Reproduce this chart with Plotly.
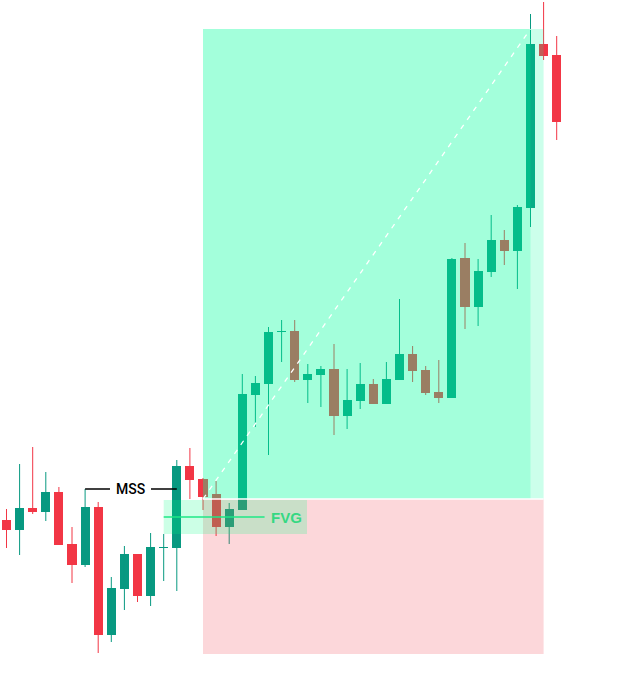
import plotly.graph_objects as go

# ---- data (price units) ----
opens  = [118.0, 117.0, 119.2, 118.8, 120.8, 115.6, 113.5, 119.3, 106.5, 111.1,
          114.6, 110.4, 115.2, 115.2, 123.4, 122.1, 120.6, 117.3, 119.0, 130.5,
          131.6, 136.8, 136.9, 132.0, 132.5, 133.1, 128.4, 129.9, 131.6, 129.6,
          132.0, 134.6, 133.0, 130.8, 130.2, 144.2, 139.3, 142.8, 146.0, 144.9,
          149.2, 165.6, 164.5]
highs  = [119.1, 123.6, 125.3, 122.8, 121.3, 117.3, 121.1, 119.8, 112.3, 115.4,
          114.6, 116.7, 116.6, 124.0, 125.2, 122.2, 121.9, 119.7, 132.6, 132.4,
          137.3, 138.0, 138.0, 133.6, 133.4, 135.6, 133.1, 133.7, 132.1, 133.8,
          140.1, 135.4, 133.4, 134.0, 144.2, 145.7, 144.1, 148.5, 147.0, 149.5,
          168.6, 169.8, 166.4]
lows   = [115.2, 114.5, 118.6, 117.9, 115.5, 111.7, 113.3, 104.7, 105.8, 109.0,
          109.8, 109.4, 111.9, 110.9, 120.1, 119.0, 116.4, 115.6, 119.0, 127.3,
          124.5, 133.8, 131.8, 129.7, 129.3, 126.5, 127.1, 129.1, 129.6, 129.6,
          132.0, 131.8, 130.5, 129.7, 130.2, 137.1, 137.4, 142.3, 143.5, 141.1,
          147.3, 164.0, 156.0]
closes = [117.0, 119.2, 118.8, 120.8, 115.5, 113.5, 119.3, 106.5, 111.2, 114.6,
          110.4, 115.3, 115.3, 123.4, 122.0, 120.3, 117.3, 119.1, 130.6, 131.7,
          136.8, 136.9, 132.0, 132.6, 133.1, 128.4, 130.0, 131.6, 129.6, 132.1,
          134.6, 132.9, 130.7, 130.2, 144.1, 139.3, 142.9, 146.0, 144.9, 149.3,
          165.6, 164.4, 157.8]

# position tool levels
entry_idx, target_idx, end_idx = 15, 40, 41
entry_price, target_price, stop_price = 120.1, 167.1, 104.6
# FVG (candle 12 high .. candle 14 low)
fvg_start, fvg_end = 12, 22.94
fvg_low, fvg_high = 116.6, 120.0
# MSS level (candle 6 high) to candle 13
mss_start, mss_end, mss_price = 6, 13, 121.1

UP, DOWN = "#089981", "#f23645"

n = len(opens)
idx = list(range(n))
fig = go.Figure()

# wicks
for col, cond in ((UP, lambda o, c: c >= o), (DOWN, lambda o, c: c < o)):
    wx, wy = [], []
    for i in idx:
        if cond(opens[i], closes[i]):
            wx += [i, i, None]
            wy += [lows[i], highs[i], None]
    fig.add_trace(go.Scatter(x=wx, y=wy, mode="lines",
                             line=dict(color=col, width=1), hoverinfo="skip"))

# bodies
base = [min(o, c) for o, c in zip(opens, closes)]
size = [max(abs(c - o), 0.1) for o, c in zip(opens, closes)]
cols = [UP if c >= o else DOWN for o, c in zip(opens, closes)]
fig.add_trace(go.Bar(x=idx, y=size, base=base, width=0.69,
                     marker=dict(color=cols, line=dict(width=0))))

shapes = []
# profit zone (outer + inner)
shapes.append(dict(type="rect", xref="x", yref="y", x0=entry_idx, x1=end_idx,
                   y0=entry_price, y1=target_price, fillcolor="rgba(0,255,155,0.2)",
                   line=dict(width=0), layer="above"))
shapes.append(dict(type="rect", xref="x", yref="y", x0=entry_idx, x1=target_idx,
                   y0=entry_price, y1=target_price, fillcolor="rgba(0,255,155,0.2)",
                   line=dict(width=0), layer="above"))
# loss zone
shapes.append(dict(type="rect", xref="x", yref="y", x0=entry_idx, x1=end_idx,
                   y0=stop_price, y1=entry_price, fillcolor="rgba(242,54,69,0.2)",
                   line=dict(width=0), layer="above"))
# FVG box
shapes.append(dict(type="rect", xref="x", yref="y", x0=fvg_start, x1=fvg_end,
                   y0=fvg_low, y1=fvg_high, fillcolor="rgba(0,255,130,0.2)",
                   line=dict(width=0), layer="above"))
# entry line
shapes.append(dict(type="line", xref="x", yref="y", x0=entry_idx, x1=end_idx,
                   y0=entry_price, y1=entry_price, line=dict(color="white", width=1.5),
                   layer="above"))
# dashed diagonal
shapes.append(dict(type="line", xref="x", yref="y", x0=entry_idx, x1=target_idx,
                   y0=entry_price, y1=target_price,
                   line=dict(color="white", width=1.3, dash="5px,6px"),
                   layer="above"))
# FVG midline
fvg_mid = (fvg_low + fvg_high) / 2
shapes.append(dict(type="line", xref="x", yref="y", x0=fvg_start, x1=19.7,
                   y0=fvg_mid, y1=fvg_mid, line=dict(color="#1ee886", width=1.5),
                   layer="above"))
# MSS lines
shapes.append(dict(type="line", xref="x", yref="y", x0=mss_start, x1=7.9,
                   y0=mss_price, y1=mss_price, line=dict(color="black", width=1.5),
                   layer="above"))
shapes.append(dict(type="line", xref="x", yref="y", x0=11.03, x1=mss_end,
                   y0=mss_price, y1=mss_price, line=dict(color="black", width=1.5),
                   layer="above"))

annotations = [
    dict(x=9.5, y=mss_price, xref="x", yref="y", text="MSS", showarrow=False,
         font=dict(family="Roboto", size=14, color="black", weight=500),
         xanchor="center", yanchor="middle"),
    dict(x=21.4, y=fvg_mid, xref="x", yref="y", text="<b>FVG</b>", showarrow=False,
         font=dict(family="Liberation Sans", size=15, color="#35d882"),
         xanchor="center", yanchor="middle"),
]

fig.update_layout(
    width=641, height=696,
    margin=dict(l=0, r=0, t=0, b=0),
    paper_bgcolor="white", plot_bgcolor="white",
    showlegend=False,
    shapes=shapes, annotations=annotations,
    xaxis=dict(visible=False, range=[-6.5 / 13.1, (641 - 6.5) / 13.1], fixedrange=True),
    yaxis=dict(visible=False, range=[170 - 696 / 10, 170], fixedrange=True),
    bargap=0,
)

fig.write_html("out.html", config={"displayModeBar": False},
               post_script="document.body.style.margin='0';document.body.style.overflow='hidden';")
